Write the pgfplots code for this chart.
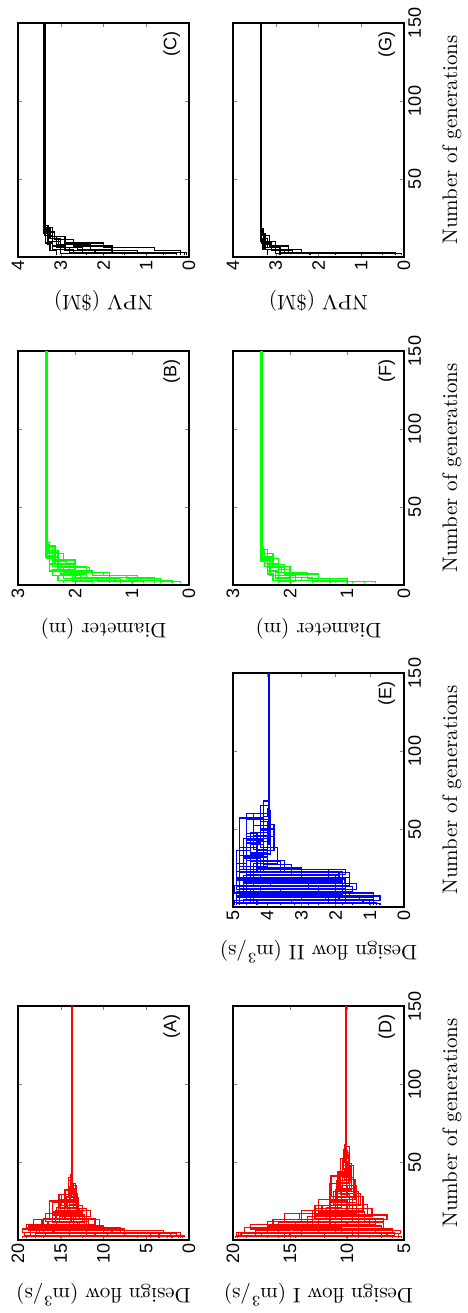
\documentclass[border=0pt]{standalone}
\usepackage{fontspec}
\usepackage{pgfplots}
\pgfplotsset{compat=1.18}
\newfontfamily\arialf{Liberation Sans}

\pgfplotsset{
  panel/.style={
    scale only axis, width=117pt, height=85.5pt,
    xmin=0, xmax=150, xtick={50,100,150},
    tick align=inside, major tick length=2pt,
    axis line style={line width=0.7pt},
    /pgf/number format/assume math mode=true,
    ticklabel style={font=\arialf\fontsize{9}{10}\selectfont},
    yticklabel style={inner sep=1.5pt},
    xticklabel style={inner sep=2pt},
    label style={font=\fontsize{10.5}{12}\selectfont},
    ylabel shift=5pt, xlabel shift=5pt,
  },
  toprow/.style={xticklabels={}},
  botrow/.style={xlabel={Number of generations}},
  tr/.style={const plot, mark=none, line width=0.6pt},
}
\newcommand{\tag}[1]{\node[anchor=south east, inner sep=0pt, font=\arialf\fontsize{9}{10}\selectfont]
  at (rel axis cs:0.965,0.05) {(#1)};}

\begin{document}
\begin{tikzpicture}[rotate=90, transform shape]

% (A) design flow
\begin{axis}[panel, toprow, at={(36.5pt,-9pt)}, anchor=north west,
  ymin=0, ymax=20, ytick={0,5,10,15,20}, ylabel={Design flow (m\textsuperscript{3}/s)}]
\addplot[tr,red] coordinates {(1,1.2)(2,9.5)(4,17.5)(7,12.2)(11,15.1)(15,13.0)(21,14.3)(28,13.75)(150,13.75)};
\addplot[tr,red] coordinates {(1,2.0)(3,19.2)(5,8.0)(8,16.5)(12,12.5)(18,14.6)(25,13.4)(33,13.65)(150,13.65)};
\addplot[tr,red] coordinates {(1,19.5)(2,4.5)(5,15.8)(9,10.5)(13,14.8)(17,13.2)(24,14.0)(31,13.7)(150,13.7)};
\addplot[tr,red] coordinates {(1,6.0)(2,18.0)(4,3.0)(6,14.5)(10,17.0)(14,12.8)(20,14.4)(27,13.5)(36,13.75)(150,13.75)};
\addplot[tr,red] coordinates {(1,0.8)(3,12.0)(6,18.8)(9,13.5)(15,11.5)(19,15.0)(26,13.9)(32,13.65)(150,13.65)};
\addplot[tr,red] coordinates {(1,15.0)(2,1.5)(4,17.0)(8,13.0)(11,16.0)(16,14.0)(23,13.3)(31,13.8)(38,13.7)(150,13.7)};
\addplot[tr,red] coordinates {(1,10.0)(2,19.0)(3,7.5)(7,15.5)(12,13.8)(17,12.5)(22,14.9)(29,13.6)(37,13.75)(150,13.75)};
\addplot[tr,red] coordinates {(1,3.5)(4,16.0)(8,19.0)(10,11.0)(14,15.5)(21,13.0)(30,14.1)(40,13.65)(150,13.65)};
\addplot[tr,red] coordinates {(1,17.0)(3,11.0)(5,16.0)(9,12.0)(13,14.5)(18,16.0)(24,13.2)(35,13.8)(42,13.7)(150,13.7)};
\addplot[tr,red] coordinates {(1,2.5)(2,14.0)(6,8.5)(8,17.2)(13,13.3)(19,14.0)(27,13.75)(150,13.75)};
\addplot[tr,red] coordinates {(1,18.0)(4,9.0)(7,14.0)(11,12.2)(16,15.3)(20,13.5)(28,14.0)(34,13.6)(41,13.65)(150,13.65)};
\addplot[tr,red] coordinates {(1,1.0)(5,19.5)(7,12.8)(12,16.8)(17,14.2)(26,13.4)(33,13.7)(150,13.7)};
\addplot[tr,red] coordinates {(1,19.0)(3,2.2)(5,17.8)(8,11.8)(12,15.6)(19,12.9)(27,14.1)(38,13.75)(150,13.75)};
\addplot[tr,red] coordinates {(1,4.5)(2,16.8)(5,10.0)(9,18.2)(13,12.0)(20,15.2)(29,13.3)(36,13.65)(150,13.65)};
\addplot[tr,red] coordinates {(1,12.5)(2,0.5)(3,18.5)(6,14.8)(10,11.8)(14,16.3)(25,14.5)(32,13.7)(150,13.7)};
\tag{A}
\end{axis}

% (D) design flow I
\begin{axis}[panel, botrow, at={(36.5pt,-116.5pt)}, anchor=north west,
  ymin=5, ymax=20, ytick={5,10,15,20}, ylabel={Design flow I (m\textsuperscript{3}/s)}]
\addplot[tr,red] coordinates {(1,19.6)(3,14.0)(6,7.0)(9,12.5)(14,9.0)(20,11.0)(32,9.6)(45,10.3)(58,10.15)(150,10.15)};
\addplot[tr,red] coordinates {(1,5.2)(2,17.5)(5,11.0)(8,14.5)(12,8.5)(18,10.8)(27,9.4)(40,10.4)(52,10.05)(150,10.05)};
\addplot[tr,red] coordinates {(1,12.0)(2,19.3)(4,6.0)(7,13.0)(13,6.5)(16,11.5)(24,9.2)(35,10.6)(52,10.0)(57,10.1)(150,10.1)};
\addplot[tr,red] coordinates {(1,8.0)(3,18.0)(6,15.0)(10,9.0)(15,12.2)(22,8.8)(30,10.8)(44,9.8)(60,10.15)(150,10.15)};
\addplot[tr,red] coordinates {(1,17.0)(2,6.5)(5,16.0)(9,10.0)(12,14.0)(19,9.5)(28,10.9)(38,9.7)(47,10.05)(150,10.05)};
\addplot[tr,red] coordinates {(1,5.5)(4,12.5)(7,18.5)(10,7.5)(14,11.8)(21,10.5)(33,9.4)(48,10.3)(54,10.1)(150,10.1)};
\addplot[tr,red] coordinates {(1,14.5)(3,9.0)(5,19.0)(8,11.0)(11,15.5)(17,10.0)(25,11.5)(36,9.9)(55,10.2)(61,10.15)(150,10.15)};
\addplot[tr,red] coordinates {(1,19.8)(2,9.5)(6,13.5)(11,6.8)(14,12.8)(20,9.8)(29,10.6)(42,10.0)(50,10.05)(150,10.05)};
\addplot[tr,red] coordinates {(1,6.0)(2,15.0)(4,10.5)(8,16.5)(13,11.0)(18,12.5)(26,9.3)(39,10.2)(46,10.1)(150,10.1)};
\addplot[tr,red] coordinates {(1,10.0)(3,5.8)(5,14.0)(9,17.0)(12,10.5)(16,8.2)(23,11.2)(31,9.8)(50,10.2)(56,10.15)(150,10.15)};
\addplot[tr,red] coordinates {(1,16.0)(2,12.0)(4,7.5)(7,16.0)(11,9.5)(18,11.0)(27,10.0)(35,10.05)(150,10.05)};
\addplot[tr,red] coordinates {(1,7.0)(3,19.5)(5,9.0)(10,13.5)(15,7.8)(20,10.8)(34,10.4)(46,9.9)(53,10.1)(150,10.1)};
\addplot[tr,red] coordinates {(1,18.8)(2,7.0)(4,17.0)(9,8.0)(13,14.2)(17,9.2)(24,10.9)(37,9.6)(49,10.15)(150,10.15)};
\addplot[tr,red] coordinates {(1,9.0)(2,19.7)(5,12.5)(7,6.8)(12,13.0)(19,8.6)(28,11.4)(41,9.8)(56,10.05)(150,10.05)};
\addplot[tr,red] coordinates {(1,15.5)(4,5.3)(6,14.8)(10,11.5)(16,12.8)(22,9.0)(31,10.7)(43,10.1)(150,10.1)};
\tag{D}
\end{axis}

% (E) design flow II
\begin{axis}[panel, botrow, at={(203pt,-116.5pt)}, anchor=north west,
  ymin=0, ymax=5, ytick={0,1,2,3,4,5}, ylabel={Design flow II (m\textsuperscript{3}/s)}]
\addplot[tr,blue] coordinates {(1,0.8)(3,4.8)(6,1.6)(9,4.2)(14,1.7)(18,4.6)(23,3.5)(30,4.3)(42,3.9)(50,3.97)(150,3.97)};
\addplot[tr,blue] coordinates {(1,4.9)(2,1.2)(5,4.5)(8,2.0)(12,4.7)(16,1.8)(21,4.4)(28,3.7)(38,4.2)(55,3.93)(150,3.93)};
\addplot[tr,blue] coordinates {(1,2.5)(3,4.95)(4,0.7)(7,3.8)(10,1.5)(13,4.6)(22,1.7)(24,4.0)(35,4.5)(48,3.9)(57,3.95)(150,3.95)};
\addplot[tr,blue] coordinates {(1,4.0)(2,2.0)(6,4.8)(11,1.4)(15,4.3)(19,2.2)(24,4.7)(32,4.0)(46,4.4)(60,3.97)(150,3.97)};
\addplot[tr,blue] coordinates {(1,1.0)(4,3.0)(7,4.9)(10,2.5)(14,4.4)(20,1.9)(23,4.1)(33,4.6)(45,3.8)(53,3.93)(150,3.93)};
\addplot[tr,blue] coordinates {(1,3.2)(2,4.7)(5,1.9)(9,4.5)(12,2.8)(17,4.8)(22,3.6)(29,4.5)(40,4.1)(58,4.0)(63,3.95)(150,3.95)};
\addplot[tr,blue] coordinates {(1,4.6)(3,0.9)(6,4.0)(8,1.8)(13,4.9)(18,3.0)(25,4.3)(36,3.8)(50,4.2)(65,3.97)(150,3.97)};
\addplot[tr,blue] coordinates {(1,1.5)(2,4.3)(5,2.3)(8,4.8)(11,1.8)(16,4.2)(21,1.7)(24,4.5)(34,3.9)(44,3.93)(150,3.93)};
\addplot[tr,blue] coordinates {(1,4.8)(4,1.3)(7,4.4)(12,2.0)(15,4.7)(20,3.3)(27,4.1)(43,4.6)(56,3.9)(62,3.95)(150,3.95)};
\addplot[tr,blue] coordinates {(1,2.8)(3,4.5)(5,0.9)(9,3.6)(11,4.9)(17,1.9)(22,4.2)(31,4.7)(44,4.0)(51,3.97)(150,3.97)};
\addplot[tr,blue] coordinates {(1,4.3)(2,1.7)(4,4.9)(10,1.7)(14,3.9)(19,4.8)(26,4.0)(37,4.4)(52,3.9)(59,3.93)(150,3.93)};
\addplot[tr,blue] coordinates {(1,0.9)(5,4.6)(9,1.8)(13,4.4)(16,2.0)(21,4.6)(30,4.0)(40,3.95)(150,3.95)};
\addplot[tr,blue] coordinates {(1,3.6)(2,4.9)(6,1.9)(10,4.6)(15,1.75)(18,4.5)(24,4.8)(38,4.3)(47,4.6)(60,3.97)(150,3.97)};
\addplot[tr,blue] coordinates {(1,1.8)(3,4.4)(7,1.7)(12,4.8)(17,1.8)(23,4.9)(36,4.5)(44,4.0)(54,3.93)(150,3.93)};
\addplot[tr,blue] coordinates {(1,4.95)(3,2.2)(8,4.7)(13,1.6)(19,4.9)(28,4.6)(41,4.2)(49,3.95)(150,3.95)};
\addplot[tr,blue] coordinates {(1,0.7)(2,3.3)(4,1.7)(9,4.95)(14,1.6)(22,4.3)(33,4.8)(57,4.1)(68,3.97)(150,3.97)};
\tag{E}
\end{axis}

% (B) diameter
\begin{axis}[panel, toprow, at={(364pt,-9pt)}, anchor=north west,
  ymin=0, ymax=3, ytick={0,1,2,3}, ylabel={Diameter (m)}]
\addplot[tr,green] coordinates {(1,0.15)(2,0.5)(4,1.1)(6,1.7)(9,2.1)(13,2.35)(19,2.45)(26,2.51)(150,2.51)};
\addplot[tr,green] coordinates {(1,0.5)(3,1.3)(5,1.9)(8,2.2)(12,2.4)(17,2.49)(150,2.49)};
\addplot[tr,green] coordinates {(1,1.0)(2,1.6)(5,2.0)(10,2.3)(15,2.2)(20,2.45)(27,2.5)(150,2.5)};
\addplot[tr,green] coordinates {(1,0.3)(3,0.9)(6,1.5)(8,2.0)(14,2.3)(22,2.48)(26,2.51)(150,2.51)};
\addplot[tr,green] coordinates {(1,1.4)(4,1.8)(7,2.25)(11,2.0)(16,2.4)(24,2.49)(150,2.49)};
\addplot[tr,green] coordinates {(1,0.8)(2,1.2)(4,2.2)(9,2.0)(13,2.45)(19,2.5)(150,2.5)};
\addplot[tr,green] coordinates {(1,2.2)(3,1.9)(6,2.4)(10,2.3)(18,2.51)(150,2.51)};
\addplot[tr,green] coordinates {(1,1.7)(2,2.05)(7,1.8)(12,2.3)(21,2.47)(25,2.49)(150,2.49)};
\addplot[tr,green] coordinates {(1,0.6)(5,1.4)(8,1.75)(11,2.15)(15,2.35)(25,2.5)(150,2.5)};
\addplot[tr,green] coordinates {(1,1.2)(3,2.3)(6,2.1)(9,2.45)(14,2.3)(20,2.51)(150,2.51)};
\tag{B}
\end{axis}

% (F) diameter
\begin{axis}[panel, botrow, at={(364pt,-116.5pt)}, anchor=north west,
  ymin=0, ymax=3, ytick={0,1,2,3}, ylabel={Diameter (m)}]
\addplot[tr,green] coordinates {(1,0.5)(2,1.0)(4,1.5)(7,2.1)(11,2.3)(18,2.45)(23,2.51)(150,2.51)};
\addplot[tr,green] coordinates {(1,1.2)(3,1.8)(5,2.2)(9,2.35)(16,2.49)(150,2.49)};
\addplot[tr,green] coordinates {(1,2.0)(4,2.25)(8,2.1)(13,2.4)(23,2.5)(150,2.5)};
\addplot[tr,green] coordinates {(1,0.9)(2,1.4)(3,1.9)(6,2.0)(12,2.3)(20,2.47)(24,2.51)(150,2.51)};
\addplot[tr,green] coordinates {(1,1.6)(5,2.0)(10,2.2)(14,2.45)(20,2.49)(150,2.49)};
\addplot[tr,green] coordinates {(1,1.0)(3,2.3)(7,2.4)(11,2.2)(17,2.48)(22,2.5)(150,2.5)};
\addplot[tr,green] coordinates {(1,2.2)(2,1.9)(6,2.35)(15,2.51)(150,2.51)};
\addplot[tr,green] coordinates {(1,1.3)(4,1.7)(8,2.15)(12,2.45)(22,2.49)(150,2.49)};
\addplot[tr,green] coordinates {(1,0.7)(2,1.6)(5,2.25)(9,2.4)(16,2.5)(150,2.5)};
\tag{F}
\end{axis}

% (C) NPV
\begin{axis}[panel, toprow, at={(528pt,-9pt)}, anchor=north west,
  ymin=0, ymax=4, ytick={0,1,2,3,4}, ylabel={NPV (\$M)}]
\addplot[tr,black] coordinates {(1,0.05)(3,1.8)(5,2.6)(8,3.0)(12,3.25)(18,3.39)(150,3.39)};
\addplot[tr,black] coordinates {(1,0.6)(2,2.2)(4,2.9)(7,3.2)(14,3.35)(19,3.37)(150,3.37)};
\addplot[tr,black] coordinates {(1,1.5)(3,2.5)(6,3.1)(10,3.3)(20,3.38)(150,3.38)};
\addplot[tr,black] coordinates {(1,0.2)(4,0.8)(6,2.0)(9,2.9)(13,3.3)(18,3.39)(150,3.39)};
\addplot[tr,black] coordinates {(1,2.4)(2,3.0)(5,3.2)(9,3.35)(14,3.37)(150,3.37)};
\addplot[tr,black] coordinates {(1,1.0)(2,1.8)(7,2.7)(11,3.15)(16,3.36)(21,3.38)(150,3.38)};
\addplot[tr,black] coordinates {(1,3.1)(4,3.25)(8,3.3)(15,3.39)(150,3.39)};
\addplot[tr,black] coordinates {(1,0.3)(2,2.7)(5,3.0)(10,3.28)(17,3.35)(22,3.37)(150,3.37)};
\addplot[tr,black] coordinates {(1,2.0)(3,2.8)(6,3.05)(12,3.2)(19,3.38)(150,3.38)};
\addplot[tr,black] coordinates {(1,0.1)(3,1.2)(4,2.3)(8,3.1)(13,3.3)(19,3.39)(150,3.39)};
\tag{C}
\end{axis}

% (G) NPV
\begin{axis}[panel, botrow, at={(528pt,-116.5pt)}, anchor=north west,
  ymin=0, ymax=4, ytick={0,1,2,3,4}, ylabel={NPV (\$M)}]
\addplot[tr,black] coordinates {(1,0.05)(2,2.6)(4,3.1)(8,3.3)(12,3.36)(150,3.36)};
\addplot[tr,black] coordinates {(1,1.0)(3,2.9)(6,3.2)(12,3.33)(16,3.34)(150,3.34)};
\addplot[tr,black] coordinates {(1,2.2)(2,2.8)(5,3.25)(10,3.35)(150,3.35)};
\addplot[tr,black] coordinates {(1,0.5)(2,1.9)(3,2.7)(7,3.15)(14,3.3)(18,3.36)(150,3.36)};
\addplot[tr,black] coordinates {(1,2.9)(4,3.1)(9,3.28)(18,3.34)(150,3.34)};
\addplot[tr,black] coordinates {(1,1.6)(2,3.0)(6,3.3)(11,3.35)(150,3.35)};
\addplot[tr,black] coordinates {(1,0.2)(3,2.4)(5,3.0)(10,3.25)(15,3.36)(150,3.36)};
\addplot[tr,black] coordinates {(1,3.2)(5,3.3)(9,3.34)(150,3.34)};
\tag{G}
\end{axis}

\pgfresetboundingbox
\path[use as bounding box] (0,0) rectangle (656.5pt,-233.5pt);
\end{tikzpicture}
\end{document}
